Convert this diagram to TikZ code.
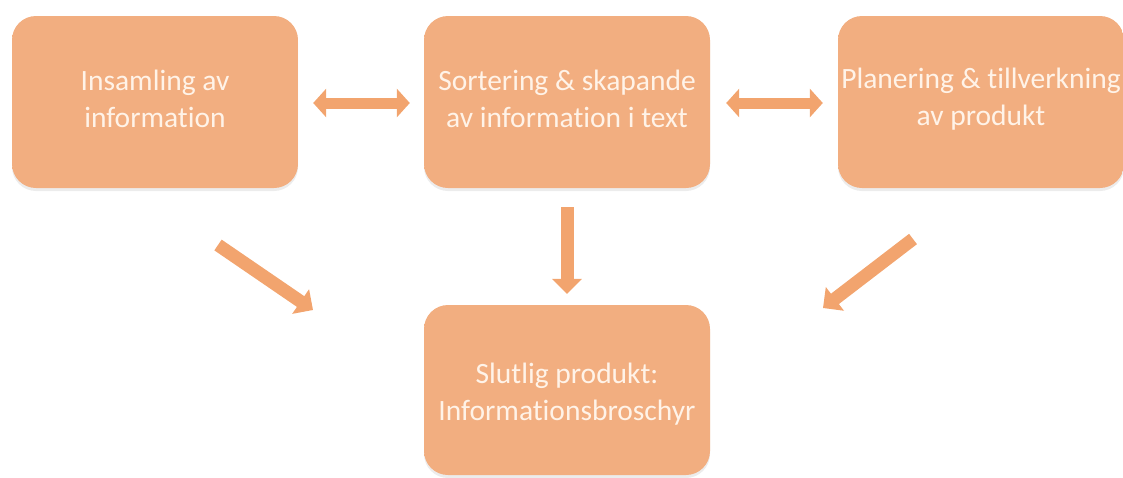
\documentclass[tikz,border=0pt]{standalone}
\usepackage{fontspec}
\setmainfont{Carlito}[Ligatures=NoCommon]
\usetikzlibrary{arrows.meta,shadows}
\definecolor{boxfill}{HTML}{F2AE80}
\definecolor{boxlight}{HTML}{FCDDB5}
\definecolor{boxtext}{HTML}{FFF3E8}
\definecolor{arrowcol}{HTML}{F2A46E}
\pgfdeclareverticalshading{boxshade}{100bp}{color(0bp)=(boxlight); color(3bp)=(boxfill); color(91bp)=(boxfill); color(100bp)=(boxlight)}
\begin{document}
\begin{tikzpicture}[x=1pt,y=-1pt]
\useasboundingbox (0,0) rectangle (1123,477);
\tikzset{
  box/.style={rounded corners=24pt, shading=boxshade, minimum width=286pt, minimum height=172pt,
    inner sep=0pt, drop shadow={opacity=0.15, shadow xshift=0pt, shadow yshift=-3pt}},
  lbl/.style={text=boxtext, align=center, font=\fontsize{29.5}{37}\selectfont, inner sep=0pt},
  dbl/.style={draw=arrowcol, line width=11pt, {Triangle[width=28pt,length=13pt]}-{Triangle[width=28pt,length=13pt]}},
  sgl/.style={draw=arrowcol, line width=13pt, -{Triangle[width=29pt,length=15pt]}}
}
\node[box] (b1) at (155,102) {};
\node[box] (b2) at (567,102) {};
\node[box] (b3) at (981,102) {};
\node[box, minimum height=170pt] (b4) at (567,390) {};
\node[lbl] (l1) at ([yshift=3pt]b1.center) {Insamling av\\information};
\node[lbl] (l2) at ([yshift=3pt]b2.center) {Sortering \& skapande\\av information i text};
\node[lbl] (l3) at ([yshift=3pt]b3.center) {Planering \& tillverkning\\av produkt};
\node[lbl] (l4) at ([yshift=-4pt]b4.center) {Slutlig produkt:\\Informationsbroschyr};
\draw[dbl] ([xshift=15pt,yshift=-1pt]b1.east) -- ([xshift=-14pt,yshift=-1pt]b2.west);
\draw[dbl] ([xshift=16pt,yshift=-1pt]b2.east) -- ([xshift=-15pt,yshift=-1pt]b3.west);
\draw[sgl] ([yshift=-19pt]b2.south) -- ([yshift=11pt]b4.north);
\coordinate (t1) at (218,245);
\coordinate (h1) at (313,310);
\coordinate (t3) at (913,239);
\coordinate (h3) at (823,308);
\draw[sgl] (t1) -- (h1);
\draw[sgl] (t3) -- (h3);
\end{tikzpicture}
\end{document}
